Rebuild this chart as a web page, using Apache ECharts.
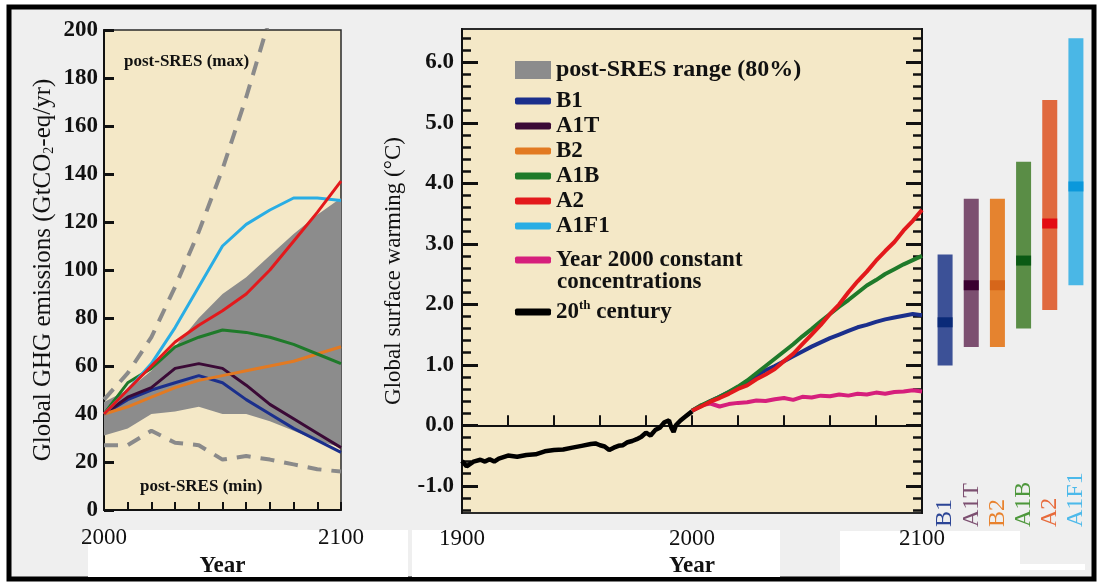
<!DOCTYPE html>
<html>
<head>
<meta charset="utf-8">
<script src="https://cdn.jsdelivr.net/npm/echarts@6/dist/echarts.min.js"></script>
<style>
html,body{margin:0;padding:0;background:#fff;}
#chart{width:1101px;height:583px;}
</style>
</head>
<body>
<div id="chart"></div>
<script>
// ---------- Left panel: emissions (GtCO2-eq/yr) ----------
const emYears = [2000, 2010, 2020, 2030, 2040, 2050, 2060, 2070, 2080, 2090, 2100];
const emA1F1 = [40, 50, 61, 76, 93, 110, 119, 125, 130, 130, 129];
const emA2   = [40, 50, 60, 70, 77, 83, 90, 100, 112, 124, 137];
const emA1B  = [40, 53, 59, 68, 72, 75, 74, 72, 69, 65, 61];
const emA1T  = [40, 47, 51, 59, 61, 59, 52, 44, 38, 32, 26];
const emB1   = [40, 46, 50, 53, 56, 53, 46, 40, 34, 29, 24];
const emB2   = [40, 43, 47, 51, 54, 56, 58, 60, 62, 65, 68];
const bandLow  = [31, 34, 40, 41, 43, 40, 40, 37, 33, 29, 26];
const bandHigh = [45, 50, 58, 68, 80, 90, 97, 106, 115, 123, 130];
const maxYears = [2000, 2010, 2020, 2030, 2040, 2050, 2060, 2070];
const postSresMax = [46, 57, 72, 93, 116, 142, 172, 205];
const postSresMin = [27, 27, 33, 28, 27, 21, 22.5, 21, 19, 17, 16];

// ---------- Middle panel: warming (°C) ----------
const histYears = [1900,1902,1905,1908,1910,1912,1914,1916,1920,1924,1928,1932,1936,1940,1944,1948,1952,1956,1958,1960,1962,1964,1966,1968,1970,1972,1974,1976,1978,1980,1982,1984,1986,1988,1990,1991,1992,1993,1995,1997,2000];
const histTemp  = [-0.59,-0.68,-0.60,-0.57,-0.60,-0.56,-0.60,-0.55,-0.50,-0.52,-0.49,-0.48,-0.43,-0.41,-0.40,-0.37,-0.34,-0.31,-0.30,-0.33,-0.35,-0.41,-0.37,-0.34,-0.33,-0.28,-0.26,-0.23,-0.19,-0.12,-0.17,-0.08,-0.04,0.05,0.08,-0.04,-0.11,0.00,0.08,0.14,0.23];
const futYears = [2000,2004,2008,2012,2016,2020,2024,2028,2032,2036,2040,2044,2048,2052,2056,2060,2064,2068,2072,2076,2080,2084,2088,2092,2096,2100];
const tA2   = [0.24,0.31,0.39,0.45,0.52,0.60,0.66,0.76,0.84,0.93,1.06,1.18,1.34,1.50,1.66,1.84,2.00,2.20,2.38,2.54,2.72,2.88,3.03,3.22,3.38,3.56];
const tA1B  = [0.24,0.33,0.40,0.47,0.55,0.64,0.74,0.86,0.98,1.10,1.22,1.34,1.47,1.59,1.72,1.84,1.96,2.07,2.19,2.31,2.40,2.50,2.58,2.66,2.73,2.80];
const tB1   = [0.24,0.32,0.40,0.47,0.55,0.63,0.72,0.82,0.91,0.98,1.06,1.14,1.22,1.30,1.37,1.44,1.50,1.56,1.62,1.66,1.71,1.75,1.78,1.81,1.84,1.82];
const tConst= [0.24,0.33,0.36,0.31,0.35,0.37,0.38,0.41,0.40,0.43,0.45,0.42,0.47,0.46,0.49,0.48,0.51,0.49,0.52,0.51,0.54,0.52,0.55,0.56,0.58,0.56];

// ---------- Right panel: likely ranges at 2100 ----------
const scenarios = ['B1', 'A1T', 'B2', 'A1B', 'A2', 'A1F1'];
const rangeLow  = [1.1, 1.4, 1.4, 1.7, 2.0, 2.4];
const rangeHigh = [2.9, 3.8, 3.8, 4.4, 5.4, 6.4];
const bestEst   = [1.8, 2.4, 2.4, 2.8, 3.4, 4.0];

// tick label lists
const warmLabels = [-1, 0, 1, 2, 3, 4, 5, 6];
const midYearLabels = [1900, 2000, 2100];
const leftYearLabels = [2000, 2100];

// ---------- styles ----------
const SERIF = '"Liberation Serif", "DejaVu Serif", serif';
const C = {
  B1: '#1b2f8c', A1T: '#3b0a36', B2: '#e27a22', A1B: '#1f7a2a', A2: '#e3191c', A1F1: '#29ade4',
  konst: '#d61f7c', hist: '#000000', band: '#8c8c8c', dash: '#8a8a8a'
};
const rangeColors = ['#3c5197', '#7c4f70', '#e5832f', '#5a8d46', '#e0693e', '#4ab7e6'];
const bestColors  = ['#0a2a78', '#3a0030', '#d6661a', '#0b5a14', '#e30b12', '#0b98db'];
const labelColors = ['#2c4596', '#7c4f70', '#e8822e', '#4d973b', '#e76a3a', '#4cb9ea'];
const TAN = '#f4e8c7';

const pairs = (xs, ys) => ys.map((v, i) => [xs[i], v]);
const warmMinor = [];
for (let k = -7; k <= 32; k++) warmMinor.push(Math.round(k * 20) / 100);

function emLine(name, vals, color) {
  return { name, type: 'line', xAxisIndex: 0, yAxisIndex: 0, data: pairs(emYears, vals),
    showSymbol: false, color, lineStyle: { width: 3, color }, z: 5 };
}
function tLine(name, xs, vals, color, w) {
  return { name, type: 'line', xAxisIndex: 1, yAxisIndex: 1, data: pairs(xs, vals),
    showSymbol: false, color, lineStyle: { width: w || 4, color }, z: 5 };
}

const tickLbl = { fontFamily: SERIF, fontWeight: 'bold', fontSize: 23, color: '#111' };
const GRID_TOP = 29, MID_H = 494;
const yearFmt = v => String(v);

const option = {
  backgroundColor: '#ffffff',
  animation: false,
  grid: [
    { left: 104, top: 30, width: 237, height: 490, show: true, backgroundColor: TAN, borderColor: '#2a2a2a', borderWidth: 1.5 },
    { left: 462, top: GRID_TOP, width: 460, height: MID_H, show: true, backgroundColor: TAN, borderColor: '#2a2a2a', borderWidth: 2 },
    { left: 932, top: GRID_TOP, width: 157, height: MID_H, show: false }
  ],
  xAxis: [
    { type: 'value', gridIndex: 0, min: 2000, max: 2100, interval: 10,
      axisLine: { lineStyle: { color: '#111', width: 2 } },
      axisTick: { inside: true, length: 8, lineStyle: { color: '#111', width: 2 } },
      axisLabel: { customValues: leftYearLabels, formatter: yearFmt, margin: 16, fontFamily: SERIF, fontSize: 23, color: '#111' },
      splitLine: { show: false },
      name: 'Year', nameLocation: 'middle', nameGap: 39, nameMoveOverlap: false,
      nameTextStyle: { fontFamily: SERIF, fontWeight: 'bold', fontSize: 23, color: '#111', padding: [6, 0, 0, 0] } },
    { type: 'value', gridIndex: 1, min: 1900, max: 2100, interval: 20,
      axisLine: { lineStyle: { color: '#111', width: 2 } },
      axisTick: { inside: true, length: 10, lineStyle: { color: '#111', width: 2 } },
      axisLabel: { customValues: midYearLabels, formatter: yearFmt, margin: 14, fontFamily: SERIF, fontSize: 23, color: '#111' },
      splitLine: { show: false },
      name: 'Year', nameLocation: 'middle', nameGap: 36, nameMoveOverlap: false,
      nameTextStyle: { fontFamily: SERIF, fontWeight: 'bold', fontSize: 23, color: '#111', padding: [6, 0, 0, 0] } },
    { type: 'category', gridIndex: 2,
      data: scenarios.map((s, i) => ({ value: s, textStyle: { color: labelColors[i] } })),
      axisLine: { show: false }, axisTick: { show: false },
      axisLabel: { inside: true, rotate: 90, interval: 0, margin: -4, fontFamily: SERIF, fontSize: 24 } }
  ],
  yAxis: [
    { type: 'value', gridIndex: 0, min: 0, max: 200, interval: 20,
      axisLine: { show: true, lineStyle: { color: '#111', width: 2 } },
      axisTick: { show: true, inside: true, length: 10, lineStyle: { color: '#111', width: 3 } },
      axisLabel: Object.assign({ margin: 6 }, tickLbl),
      splitLine: { show: false },
      name: 'Global GHG emissions (GtCO{sub|2}-eq/yr)', nameLocation: 'middle', nameGap: 48,
      nameTextStyle: { fontFamily: SERIF, fontSize: 25, color: '#111',
        rich: { sub: { fontFamily: SERIF, fontSize: 14, color: '#111', verticalAlign: 'bottom', padding: [9, 0, 0, 0] } } } },
    { type: 'value', gridIndex: 1, min: -1.45, max: 6.55, position: 'left',
      axisLine: { show: true, lineStyle: { color: '#111', width: 2 } },
      axisTick: { show: true, inside: true, length: 16, customValues: warmLabels, lineStyle: { color: '#111', width: 3 } },
      axisLabel: Object.assign({ customValues: warmLabels, margin: 8, formatter: v => v.toFixed(1) }, tickLbl),
      splitLine: { show: false },
      name: 'Global surface warming (°C)', nameLocation: 'middle', nameGap: 57,
      nameTextStyle: { fontFamily: SERIF, fontSize: 23, color: '#111' } },
    { type: 'value', gridIndex: 1, min: -1.45, max: 6.55, position: 'left',
      axisLine: { show: false },
      axisTick: { show: true, inside: true, length: 9, customValues: warmMinor, lineStyle: { color: '#111', width: 2.5 } },
      axisLabel: { show: false }, splitLine: { show: false } },
    { type: 'value', gridIndex: 1, min: -1.45, max: 6.55, position: 'right',
      axisLine: { show: true, lineStyle: { color: '#111', width: 2 } },
      axisTick: { show: true, inside: true, length: 16, customValues: warmLabels, lineStyle: { color: '#111', width: 3 } },
      axisLabel: { show: false }, splitLine: { show: false } },
    { type: 'value', gridIndex: 1, min: -1.45, max: 6.55, position: 'right',
      axisLine: { show: false },
      axisTick: { show: true, inside: true, length: 9, customValues: warmMinor, lineStyle: { color: '#111', width: 2.5 } },
      axisLabel: { show: false }, splitLine: { show: false } },
    { type: 'value', gridIndex: 2, min: -1.45, max: 6.55, show: false }
  ],
  legend: [
    { data: [{ name: 'post-SRES range (80%)', icon: 'rect' }], left: 515, top: 58, padding: 0,
      itemWidth: 36, itemHeight: 18, selectedMode: false,
      textStyle: { fontFamily: SERIF, fontWeight: 'bold', fontSize: 24, color: '#111' } },
    { data: scenarios.map(n => ({ name: n, icon: 'roundRect' })), orient: 'vertical', left: 515, top: 88.5,
      padding: 0, itemGap: 0, itemWidth: 36, itemHeight: 7, selectedMode: false,
      textStyle: { fontFamily: SERIF, fontWeight: 'bold', fontSize: 23, lineHeight: 25, color: '#111' } },
    { data: [{ name: 'Year 2000 constant concentrations', icon: 'roundRect' }, { name: '20th century', icon: 'roundRect' }],
      orient: 'vertical', left: 515, top: 247.5, padding: 0, itemGap: 27, itemWidth: 36, itemHeight: 7, selectedMode: false,
      formatter: n => n === '20th century' ? '20{sup|th} century' : 'Year 2000 constant',
      textStyle: { fontFamily: SERIF, fontWeight: 'bold', fontSize: 23, lineHeight: 25, color: '#111',
        rich: { sup: { fontFamily: SERIF, fontWeight: 'bold', fontSize: 13, verticalAlign: 'top', lineHeight: 25, color: '#111' } } } }
  ],
  graphic: [
    { type: 'rect', z: -100, silent: true, shape: { x: 9, y: 7, width: 1085, height: 572 },
      style: { fill: '#efefef', stroke: '#000', lineWidth: 5 } },
    { type: 'rect', z: -99, silent: true, shape: { x: 88, y: 530, width: 320, height: 47 }, style: { fill: '#ffffff' } },
    { type: 'rect', z: -99, silent: true, shape: { x: 412, y: 530, width: 368, height: 47 }, style: { fill: '#ffffff' } },
    { type: 'rect', z: -99, silent: true, shape: { x: 840, y: 531, width: 180, height: 44 }, style: { fill: '#ffffff' } },
    { type: 'rect', z: -99, silent: true, shape: { x: 1020, y: 564, width: 65, height: 6 }, style: { fill: '#ffffff' } },
    { type: 'text', z: 50, silent: true, x: 124, y: 53,
      style: { text: 'post-SRES (max)', font: 'bold 17px ' + SERIF, fill: '#111' } },
    { type: 'text', z: 50, silent: true, x: 140, y: 478,
      style: { text: 'post-SRES (min)', font: 'bold 17px ' + SERIF, fill: '#111' } },
    { type: 'text', z: 50, silent: true, x: 557, y: 271,
      style: { text: 'concentrations', font: 'bold 23px ' + SERIF, fill: '#111' } }
  ],
  series: [
    { name: 'post-SRES range (80%)', type: 'custom', xAxisIndex: 0, yAxisIndex: 0,
      data: emYears.map((y, i) => [y, bandLow[i], bandHigh[i]]),
      encode: { x: 0, y: [1, 2] },
      itemStyle: { color: C.band }, color: C.band, z: 2,
      renderItem: function (params, api) {
        if (params.dataIndex !== 0) return null;
        const top = [], bot = [];
        for (let i = 0; i < emYears.length; i++) {
          top.push(api.coord([emYears[i], bandHigh[i]]));
          bot.push(api.coord([emYears[i], bandLow[i]]));
        }
        return { type: 'polygon', shape: { points: top.concat(bot.reverse()) }, style: { fill: C.band } };
      } },
    { name: 'post-SRES (max)', type: 'line', xAxisIndex: 0, yAxisIndex: 0, data: pairs(maxYears, postSresMax),
      showSymbol: false, lineStyle: { width: 4, color: C.dash, type: [14, 10] }, z: 3 },
    { name: 'post-SRES (min)', type: 'line', xAxisIndex: 0, yAxisIndex: 0, data: pairs(emYears, postSresMin),
      showSymbol: false, lineStyle: { width: 4, color: C.dash, type: [14, 10] }, z: 3 },
    emLine('B1', emB1, C.B1),
    emLine('A1T', emA1T, C.A1T),
    emLine('B2', emB2, C.B2),
    emLine('A1B', emA1B, C.A1B),
    emLine('A1F1', emA1F1, C.A1F1),
    emLine('A2', emA2, C.A2),
    tLine('Year 2000 constant concentrations', futYears, tConst, C.konst),
    tLine('B1', futYears, tB1, C.B1),
    tLine('A1B', futYears, tA1B, C.A1B),
    tLine('A2', futYears, tA2, C.A2),
    tLine('20th century', histYears, histTemp, C.hist, 4.5),
    { name: 'ranges', type: 'custom', xAxisIndex: 2, yAxisIndex: 5,
      data: scenarios.map((s, i) => [i, rangeLow[i], rangeHigh[i], bestEst[i]]),
      encode: { x: 0, y: [1, 2] },
      renderItem: function (params, api) {
        const i = api.value(0);
        const lo = api.coord([i, api.value(1)]);
        const hi = api.coord([i, api.value(2)]);
        const be = api.coord([i, api.value(3)]);
        const w = 15;
        return { type: 'group', children: [
          { type: 'rect', shape: { x: lo[0] - w / 2, y: hi[1], width: w, height: lo[1] - hi[1] }, style: { fill: rangeColors[i] } },
          { type: 'rect', shape: { x: lo[0] - w / 2, y: be[1] - 5, width: w, height: 10 }, style: { fill: bestColors[i] } }
        ] };
      } }
  ]
};

const chart = echarts.init(document.getElementById('chart'), null, { renderer: 'canvas' });
chart.setOption(option);
</script>
</body>
</html>
